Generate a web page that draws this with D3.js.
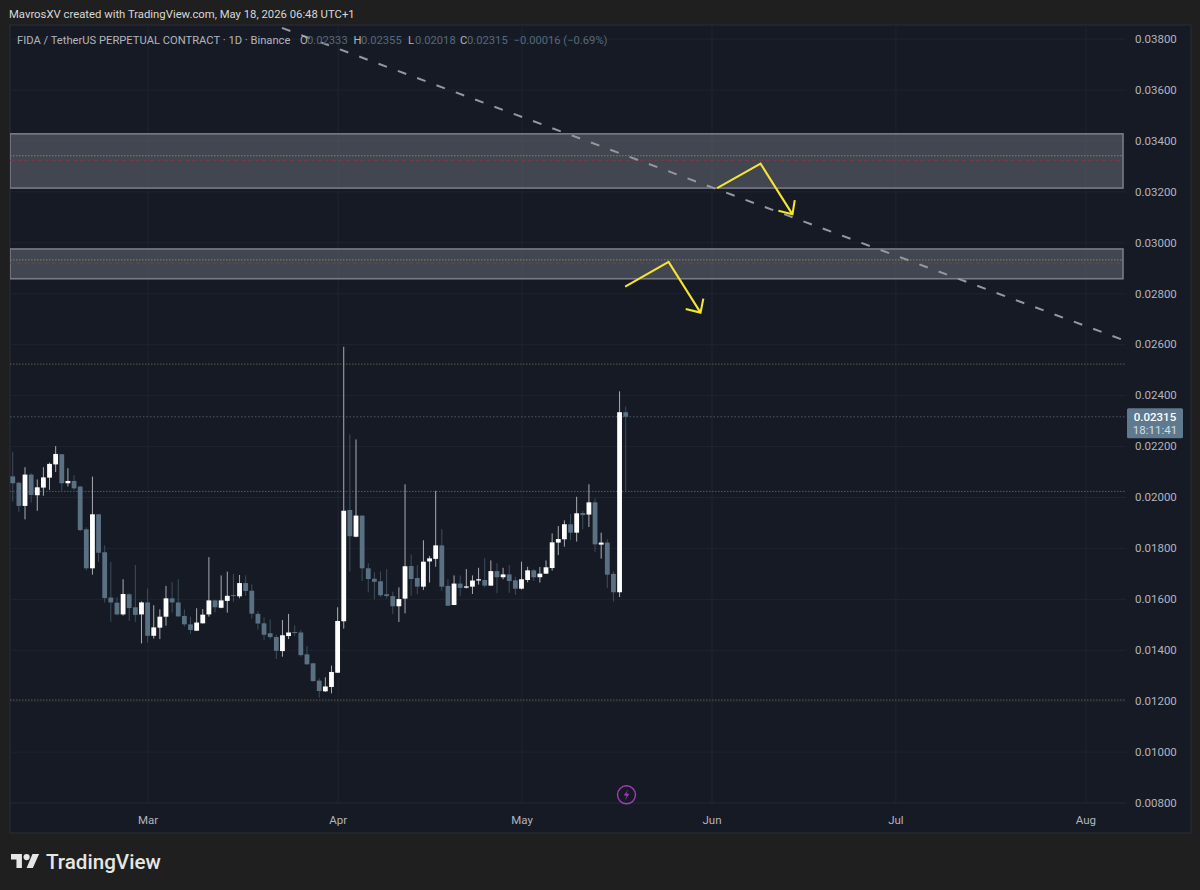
<!DOCTYPE html>
<html>
<head>
<meta charset="utf-8">
<script src="https://d3js.org/d3.v7.min.js"></script>
<style>
    html, body { margin: 0; padding: 0; background: #1f1f1f; }
    svg { display: block; }
    text { font-family: Roboto, "Liberation Sans", sans-serif; }
    .tick line { stroke: #1f2430; }
    .tick text { fill: #b2b5be; font-size: 11.5px; }
</style>
</head>
<body>
<svg id="chart" width="1200" height="890"></svg>

<script>
// Daily candles, first one is Feb 7 2026
const firstDay = "2026-02-07";
const opens = [
    0.02081,0.02056,0.01965,0.02088,0.02007,0.02037,0.02076,0.02128,0.02168,0.02054,
    0.02063,0.02041,0.01873,0.01720,0.01932,0.01783,0.01605,0.01585,0.01539,0.01618,
    0.01567,0.01539,0.01586,0.01455,0.01487,0.01530,0.01602,0.01586,0.01533,0.01500,
    0.01475,0.01504,0.01539,0.01594,0.01565,0.01592,0.01615,0.01610,0.01662,0.01632,
    0.01541,0.01504,0.01465,0.01450,0.01395,0.01454,0.01470,0.01468,0.01382,0.01347,
    0.01279,0.01237,0.01254,0.01310,0.01512,0.01949,0.01844,0.01927,0.01720,0.01679,
    0.01669,0.01618,0.01611,0.01571,0.01601,0.01729,0.01682,0.01648,0.01747,0.01757,
    0.01810,0.01651,0.01576,0.01660,0.01644,0.01648,0.01672,0.01674,0.01652,0.01709,
    0.01685,0.01696,0.01673,0.01640,0.01674,0.01712,0.01685,0.01699,0.01721,0.01821,
    0.01834,0.01893,0.01860,0.01937,0.01931,0.01979,0.01813,0.01821,0.01698,0.01626,0.02333
];
const highs = [
    0.02178,0.02060,0.02117,0.02093,0.02069,0.02117,0.02135,0.02200,0.02169,0.02113,
    0.02086,0.02043,0.01881,0.02080,0.01933,0.01810,0.01745,0.01606,0.01677,0.01622,
    0.01733,0.01590,0.01641,0.01575,0.01559,0.01651,0.01666,0.01677,0.01559,0.01530,
    0.01563,0.01560,0.01764,0.01596,0.01692,0.01707,0.01698,0.01694,0.01692,0.01657,
    0.01552,0.01527,0.01520,0.01459,0.01517,0.01541,0.01496,0.01478,0.01415,0.01349,
    0.01288,0.01292,0.01338,0.01567,0.02590,0.02246,0.02226,0.01928,0.01740,0.01704,
    0.01707,0.01717,0.01628,0.01645,0.02050,0.01774,0.01732,0.01830,0.01768,0.02024,
    0.01874,0.01677,0.01692,0.01692,0.01717,0.01692,0.01722,0.01759,0.01751,0.01740,
    0.01722,0.01733,0.01687,0.01746,0.01726,0.01716,0.01725,0.01751,0.01857,0.01886,
    0.01908,0.01933,0.02001,0.01946,0.02050,0.01995,0.01860,0.01834,0.01708,0.02415,0.02355
];
const lows = [
    0.01982,0.01942,0.01912,0.01978,0.01946,0.02005,0.02028,0.02098,0.02025,0.02041,
    0.02028,0.01866,0.01712,0.01695,0.01745,0.01585,0.01510,0.01535,0.01534,0.01514,
    0.01509,0.01425,0.01428,0.01444,0.01442,0.01495,0.01546,0.01530,0.01491,0.01463,
    0.01474,0.01503,0.01530,0.01547,0.01563,0.01546,0.01589,0.01602,0.01612,0.01523,
    0.01479,0.01437,0.01442,0.01364,0.01373,0.01442,0.01455,0.01373,0.01342,0.01275,
    0.01212,0.01234,0.01229,0.01309,0.01483,0.01707,0.01842,0.01670,0.01626,0.01598,
    0.01607,0.01602,0.01541,0.01509,0.01543,0.01612,0.01619,0.01635,0.01664,0.01726,
    0.01632,0.01572,0.01575,0.01611,0.01641,0.01619,0.01656,0.01645,0.01651,0.01622,
    0.01677,0.01624,0.01615,0.01637,0.01665,0.01670,0.01664,0.01698,0.01711,0.01772,
    0.01805,0.01831,0.01825,0.01873,0.01882,0.01785,0.01758,0.01643,0.01589,0.01607,0.02018
];
const closes = [
    0.02054,0.01965,0.02088,0.02008,0.02038,0.02077,0.02130,0.02169,0.02054,0.02063,
    0.02034,0.01870,0.01720,0.01932,0.01781,0.01603,0.01586,0.01539,0.01619,0.01564,
    0.01537,0.01586,0.01455,0.01488,0.01530,0.01602,0.01586,0.01531,0.01500,0.01478,
    0.01507,0.01538,0.01594,0.01567,0.01594,0.01612,0.01611,0.01662,0.01631,0.01542,
    0.01503,0.01459,0.01450,0.01396,0.01457,0.01468,0.01466,0.01379,0.01343,0.01277,
    0.01238,0.01256,0.01313,0.01513,0.01946,0.01846,0.01927,0.01720,0.01678,0.01667,
    0.01614,0.01611,0.01571,0.01599,0.01728,0.01678,0.01648,0.01746,0.01759,0.01810,
    0.01648,0.01573,0.01660,0.01643,0.01649,0.01672,0.01677,0.01652,0.01709,0.01685,
    0.01696,0.01670,0.01640,0.01677,0.01712,0.01685,0.01699,0.01724,0.01822,0.01835,
    0.01893,0.01860,0.01936,0.01929,0.01979,0.01814,0.01821,0.01695,0.01626,0.02333,0.02315
];

// Axis ticks
const priceTicks = [0.008,0.010,0.012,0.014,0.016,0.018,0.020,0.022,0.024,0.026,0.028,0.030,0.032,0.034,0.036,0.038];
const monthTicks = ["2026-03-01","2026-04-01","2026-05-01","2026-06-01","2026-07-01","2026-08-01"];

// Drawings on the chart
const zoneTops = [0.03426, 0.02974];
const zoneBottoms = [0.03213, 0.02857];
const zoneOlive = [0.03340, 0.02931];
const zoneRed = [0.03321, 0.02918];
const levels = [0.02522, 0.02022, 0.01203];
const lastClose = 0.02315;
const trendDates = ["2026-03-22T22:00Z", "2026-08-07T14:00Z"];
const trendPrices = [0.03842, 0.02613];
const arrowDates = [
    ["2026-06-01T22:00Z","2026-06-09T00:00Z","2026-06-14T05:00Z"],
    ["2026-05-17T22:00Z","2026-05-25T00:00Z","2026-05-30T05:00Z"]
];
const arrowPrices = [
    [0.03213, 0.03309, 0.03110],
    [0.02826, 0.02923, 0.02724]
];
const headDates = [
    ["2026-06-11T22:00Z","2026-06-14T05:00Z","2026-06-14T14:00Z"],
    ["2026-05-27T19:00Z","2026-05-30T05:00Z","2026-05-30T16:00Z"]
];
const headPrices = [
    [0.03124, 0.03110, 0.03166],
    [0.02738, 0.02724, 0.02779]
];

const svg = d3.select("#chart");
const pane = { left: 10, right: 1191, top: 25, bottom: 833, plotRight: 1126, plotBottom: 803, zoneRight: 1123 };

const days = d3.utcDay.range(new Date(firstDay), d3.utcDay.offset(new Date(firstDay), opens.length));
const candles = days.map((d, i) => ({ date: d, o: opens[i], h: highs[i], l: lows[i], c: closes[i] }));

const x = d3.scaleUtc()
    .domain([new Date("2026-03-01"), new Date("2026-08-01")])
    .range([147.6, 1085.4]);
const y = d3.scaleLinear()
    .domain([0.008, 0.038])
    .range([802.6, 38.6]);

// Background
svg.append("rect").attr("width", 1200).attr("height", 890).attr("fill", "#1f1f1f");
svg.append("rect")
    .attr("x", pane.left).attr("y", pane.top)
    .attr("width", pane.right - pane.left).attr("height", pane.bottom - pane.top)
    .attr("fill", "#161a25").attr("stroke", "#2a2e39");

svg.append("defs").append("clipPath").attr("id", "plot")
    .append("rect")
    .attr("x", pane.left).attr("y", pane.top)
    .attr("width", pane.plotRight - pane.left).attr("height", pane.plotBottom - pane.top);

// Axes, tick lines stretched into grid lines
const yAxis = d3.axisRight(y).tickValues(priceTicks).tickFormat(d3.format(".5f")).tickSize(0).tickPadding(0);
const yG = svg.append("g").attr("transform", `translate(${pane.plotRight},0)`).call(yAxis);
yG.select(".domain").remove();
yG.selectAll(".tick text").attr("x", 9).attr("dy", "0.33em");
yG.selectAll(".tick line").attr("x1", pane.left - pane.plotRight).attr("x2", 0);

const xAxis = d3.axisBottom(x)
    .tickValues(monthTicks.map(d => new Date(d)))
    .tickFormat(d3.utcFormat("%b")).tickSize(0).tickPadding(0);
const xG = svg.append("g").attr("transform", `translate(0,${pane.plotBottom})`).call(xAxis);
xG.select(".domain").remove();
xG.selectAll(".tick text").attr("y", 21).attr("dy", 0);
xG.selectAll(".tick line").attr("y1", pane.top - pane.plotBottom).attr("y2", 0);

svg.append("line")
    .attr("x1", pane.left).attr("x2", pane.plotRight)
    .attr("y1", pane.plotBottom).attr("y2", pane.plotBottom)
    .attr("stroke", "#1f2430");

const plot = svg.append("g").attr("clip-path", "url(#plot)");

// Supply zones
const zones = zoneTops.map((t, i) => ({ top: t, bottom: zoneBottoms[i] }));
plot.selectAll("rect.zone").data(zones).join("rect")
    .attr("class", "zone")
    .attr("x", pane.left).attr("width", pane.zoneRight - pane.left)
    .attr("y", d => y(d.top))
    .attr("height", d => y(d.bottom) - y(d.top))
    .attr("fill", "rgba(120,123,134,0.46)")
    .attr("stroke", "#787b86").attr("stroke-width", 1.6);

const hLine = (sel, value, x2, color, dash) => sel.append("line")
    .attr("x1", pane.left).attr("x2", x2)
    .attr("y1", y(value)).attr("y2", y(value))
    .attr("stroke", color).attr("stroke-dasharray", dash);

zoneOlive.forEach(v => hLine(plot, v, pane.zoneRight, "#85855a", "1.5 1.5"));
zoneRed.forEach(v => hLine(plot, v, pane.zoneRight, "#7a3a48", "4 3"));
levels.forEach(v => hLine(plot, v, pane.plotRight, "#5f5f3a", "1.5 1.5"));
hLine(plot, lastClose, pane.plotRight, "#4c5866", "1.5 2");

// Candles
const isUp = d => d.c >= d.o;
plot.selectAll("line.wick").data(candles).join("line")
    .attr("class", "wick")
    .attr("x1", d => x(d.date)).attr("x2", d => x(d.date))
    .attr("y1", d => y(d.h)).attr("y2", d => y(d.l))
    .attr("stroke", d => isUp(d) ? "#a9acb3" : "#3e4d5c");
plot.selectAll("rect.body").data(candles).join("rect")
    .attr("class", "body")
    .attr("x", d => x(d.date) - 2.4).attr("width", 4.8)
    .attr("y", d => y(Math.max(d.o, d.c)))
    .attr("height", d => Math.max(1, Math.abs(y(d.o) - y(d.c))))
    .attr("fill", d => isUp(d) ? "#ffffff" : "#5a7184");

// Trend line
const pathLine = d3.line().x(d => x(new Date(d[0]))).y(d => y(d[1]));
plot.append("path")
    .attr("d", pathLine(d3.zip(trendDates, trendPrices)))
    .attr("fill", "none").attr("stroke", "#9598a1").attr("stroke-width", 2)
    .attr("stroke-dasharray", "9 11.6");

// Yellow arrows
arrowDates.forEach((dates, i) => {
    [d3.zip(dates, arrowPrices[i]), d3.zip(headDates[i], headPrices[i])].forEach(pts => {
        plot.append("path")
            .attr("d", pathLine(pts))
            .attr("fill", "none").attr("stroke", "#f5e532").attr("stroke-width", 2.1);
    });
});

// Last price tag
const tag = svg.append("g");
tag.append("rect").attr("x", 1127).attr("y", y(lastClose) - 8.5).attr("width", 56).attr("height", 30)
    .attr("rx", 1.5).attr("fill", "#5f7a8e");
tag.append("text").attr("x", 1155).attr("y", y(lastClose) + 4).attr("text-anchor", "middle")
    .attr("fill", "#ffffff").attr("font-size", 11.5).attr("font-weight", 500)
    .text(d3.format(".5f")(lastClose));
tag.append("text").attr("x", 1155).attr("y", y(lastClose) + 17).attr("text-anchor", "middle")
    .attr("fill", "#d6dde3").attr("font-size", 11.5).text("18:11:41");

// Lightning badge
const badge = svg.append("g").attr("transform", "translate(626.5,794.8)");
badge.append("circle").attr("r", 9).attr("fill", "none").attr("stroke", "#a63cb8").attr("stroke-width", 1.4);
badge.append("path").attr("d", "M1.8,-5.5 L-2.8,0.8 L0.2,0.8 L-1.6,5.5 L2.8,-1 L-0.2,-1 Z").attr("fill", "#a63cb8");

// Header texts
svg.append("text").attr("x", 9).attr("y", 18).attr("fill", "#d8d8d8").attr("font-size", 11.3)
    .text("MavrosXV created with TradingView.com, May 18, 2026 06:48 UTC+1");

const headerLabels = ["FIDA / TetherUS PERPETUAL CONTRACT · 1D · Binance", "O", "H", "L", "C"];
const headerLabelX = [17, 300, 353.5, 408, 460];
const headerValues = ["0.02333", "0.02355", "0.02018", "0.02315", "−0.00016 (−0.69%)"];
const headerValueX = [307, 361, 415, 467, 513.5];
svg.selectAll("text.hl").data(headerLabels).join("text")
    .attr("class", "hl")
    .attr("x", (d, i) => headerLabelX[i]).attr("y", 44)
    .attr("fill", "#b2b5be").attr("font-size", 11.2)
    .text(d => d);
svg.selectAll("text.hv").data(headerValues).join("text")
    .attr("class", "hv")
    .attr("x", (d, i) => headerValueX[i]).attr("y", 44)
    .attr("fill", "#56697a").attr("font-size", 11.2)
    .text(d => d);

// TradingView logo
const logo = svg.append("g").attr("transform", "translate(11,854) scale(0.78)").attr("fill", "#e6e6e6");
logo.append("path").attr("d", "M14 18H7V7H0V0h14v18zM28 18h-8L27.5 0H36l-8 18z");
logo.append("circle").attr("cx", 20).attr("cy", 4).attr("r", 4);
svg.append("text").attr("x", 46).attr("y", 868.5).attr("fill", "#e6e6e6")
    .attr("font-size", 20.6).attr("font-weight", 500).text("TradingView");
</script>
</body>
</html>
